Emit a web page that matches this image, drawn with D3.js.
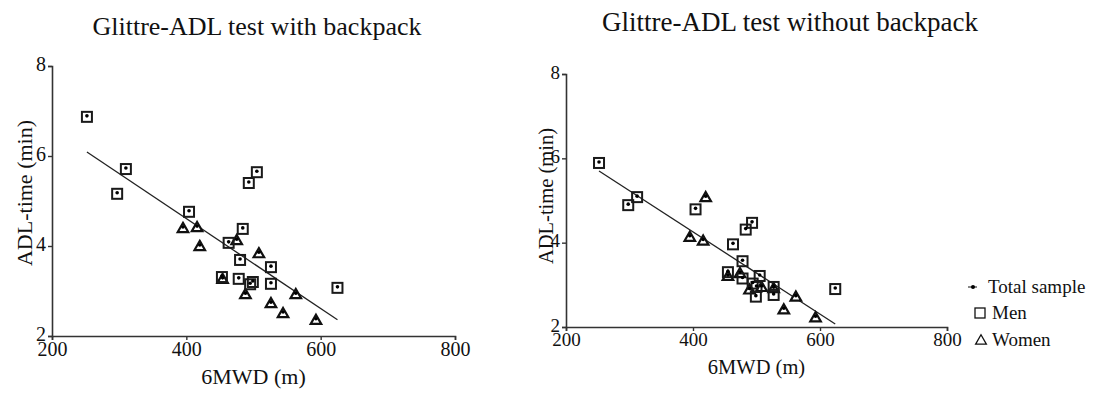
<!DOCTYPE html>
<html lang="en">
  <head>
    <meta charset="UTF-8" />
    <script src="https://d3js.org/d3.v7.min.js"></script>
    <title>Glittre-ADL vs 6MWD</title>
    <style>
      body { margin: 0; background: #fff; }
      svg text { font-family: "Liberation Serif", "DejaVu Serif", serif; fill: #111; }
    </style>
  </head>
  <body>
    <div id="chart"></div>
    <script>
      // tick labels shared by both panels
      var xTicks = [200, 400, 600, 800];
      var yTicks = [2, 4, 6, 8];

      // with backpack
      var menWithX = [252, 297, 310, 404, 453, 463, 478, 480, 484, 493, 495, 499, 505, 526, 526, 625];
      var menWithY = [6.87, 5.16, 5.71, 4.76, 3.31, 4.07, 3.27, 3.69, 4.38, 5.40, 3.15, 3.20, 5.64, 3.53, 3.16, 3.07];
      var womenWithX = [395, 416, 420, 454, 475, 488, 508, 526, 544, 563, 593];
      var womenWithY = [4.40, 4.42, 4.00, 3.27, 4.13, 2.93, 3.84, 2.73, 2.51, 2.93, 2.36];
      var fitWith = { a: 8.61, b: -0.0100, from: 252, to: 625 };

      // without backpack
      var menWithoutX = [252, 298, 312, 404, 455, 463, 478, 478, 483, 493, 494, 499, 500, 505, 527, 527, 624];
      var menWithoutY = [5.89, 4.89, 5.08, 4.79, 3.30, 3.96, 3.56, 3.15, 4.31, 4.47, 3.03, 2.72, 2.95, 3.21, 2.95, 2.76, 2.90];
      var womenWithoutX = [395, 416, 420, 455, 474, 489, 508, 527, 543, 562, 593];
      var womenWithoutY = [4.14, 4.05, 5.08, 3.21, 3.28, 2.89, 2.95, 2.92, 2.42, 2.72, 2.23];
      var fitWithout = { a: 8.16, b: -0.00976, from: 252, to: 624 };

      var legendLabels = ["Total sample", "Men", "Women"];

      var serif = "'Liberation Serif', 'DejaVu Serif', serif";

      var svg = d3.select("#chart").append("svg")
        .attr("width", 1098).attr("height", 396);

      function zip(xs, ys) {
        return xs.map(function (x, i) { return { x: x, y: ys[i] }; });
      }

      var tri = d3.symbol().type(d3.symbolTriangle).size(48);

      function drawPanel(p) {
        var x = d3.scaleLinear().domain([200, 800]).range([p.left, p.right]);
        var y = d3.scaleLinear().domain([2, 8]).range([p.bottom, p.top]);
        var g = svg.append("g");

        var xAxis = g.append("g")
          .attr("transform", "translate(0," + p.bottom + ")")
          .call(d3.axisBottom(x).tickValues(xTicks).tickFormat(d3.format("d")).tickSize(4).tickPadding(2));
        var yAxis = g.append("g")
          .attr("transform", "translate(" + p.left + ",0)")
          .call(d3.axisLeft(y).tickValues(yTicks).tickFormat(d3.format("d")).tickSize(4).tickPadding(2));
        [xAxis, yAxis].forEach(function (a) {
          a.attr("font-family", serif);
          a.select(".domain").attr("stroke", "#333").attr("stroke-width", 1.6);
          a.selectAll(".tick line").attr("stroke", "#333").attr("stroke-width", 1.4);
          a.selectAll("text").attr("font-size", p.tickSize).attr("fill", "#111");
        });
        // lift the y labels a little so "2" sits just above "200"
        yAxis.selectAll("text").attr("dy", "0.22em");

        g.append("text").attr("x", p.titleX).attr("y", p.titleY)
          .attr("text-anchor", "middle").attr("font-size", p.titleSize).text(p.title);
        g.append("text").attr("x", (p.left + p.right) / 2).attr("y", p.xLabelY)
          .attr("text-anchor", "middle").attr("font-size", p.labelSize).text("6MWD (m)");
        g.append("text")
          .attr("transform", "translate(" + p.yLabelX + "," + p.yLabelMid + ") rotate(-90)")
          .attr("text-anchor", "middle").attr("font-size", p.labelSize).text("ADL-time (min)");

        // regression line
        g.append("line")
          .attr("x1", x(p.fit.from)).attr("y1", y(p.fit.a + p.fit.b * p.fit.from))
          .attr("x2", x(p.fit.to)).attr("y2", y(p.fit.a + p.fit.b * p.fit.to))
          .attr("stroke", "#222").attr("stroke-width", 1.3);

        var women = zip(p.womenX, p.womenY);
        var men = zip(p.menX, p.menY);

        g.selectAll("path.women").data(women).enter().append("path")
          .attr("class", "women")
          .attr("transform", function (d) { return "translate(" + x(d.x) + "," + (y(d.y) + 1) + ")"; })
          .attr("d", tri)
          .attr("fill", "#fff").attr("stroke", "#111").attr("stroke-width", 2.2);

        g.selectAll("rect.men").data(men).enter().append("rect")
          .attr("class", "men")
          .attr("x", function (d) { return x(d.x) - 5; })
          .attr("y", function (d) { return y(d.y) - 5; })
          .attr("width", 10).attr("height", 10)
          .attr("fill", "none").attr("stroke", "#1a1a1a").attr("stroke-width", 2);

        g.selectAll("circle.all").data(men.concat(women)).enter().append("circle")
          .attr("class", "all")
          .attr("cx", function (d) { return x(d.x); })
          .attr("cy", function (d) { return y(d.y) - 1; })
          .attr("r", 1.8).attr("fill", "#000");
      }

      drawPanel({
        left: 52, right: 455, top: 66, bottom: 336,
        menX: menWithX, menY: menWithY, womenX: womenWithX, womenY: womenWithY, fit: fitWith,
        title: "Glittre-ADL test with backpack", titleX: 257, titleY: 35, titleSize: 26,
        tickSize: 20, labelSize: 22, xLabelY: 384, yLabelX: 32, yLabelMid: 193
      });

      drawPanel({
        left: 566, right: 947, top: 74, bottom: 327,
        menX: menWithoutX, menY: menWithoutY, womenX: womenWithoutX, womenY: womenWithoutY, fit: fitWithout,
        title: "Glittre-ADL test without backpack", titleX: 790, titleY: 31, titleSize: 27,
        tickSize: 19, labelSize: 20.5, xLabelY: 374, yLabelX: 553, yLabelMid: 196
      });

      // legend
      var leg = svg.append("g").attr("transform", "translate(980,0)");
      var legY = [287, 313, 340];
      leg.selectAll("text").data(legendLabels).enter().append("text")
        .attr("x", function (d, i) { return i === 0 ? 8 : 12; })
        .attr("y", function (d, i) { return legY[i] + 6; })
        .attr("font-size", 19).text(function (d) { return d; });
      leg.append("line").attr("x1", -12).attr("x2", -3).attr("y1", legY[0]).attr("y2", legY[0])
        .attr("stroke", "#111").attr("stroke-width", 1);
      leg.append("circle").attr("cx", -7).attr("cy", legY[0]).attr("r", 2).attr("fill", "#000");
      leg.append("rect").attr("x", -5).attr("y", legY[1] - 5).attr("width", 10).attr("height", 10)
        .attr("fill", "none").attr("stroke", "#111").attr("stroke-width", 1.3);
      leg.append("path").attr("transform", "translate(1," + (legY[2] + 1) + ")")
        .attr("d", d3.symbol().type(d3.symbolTriangle).size(50))
        .attr("fill", "none").attr("stroke", "#111").attr("stroke-width", 1.3);
    </script>
  </body>
</html>
